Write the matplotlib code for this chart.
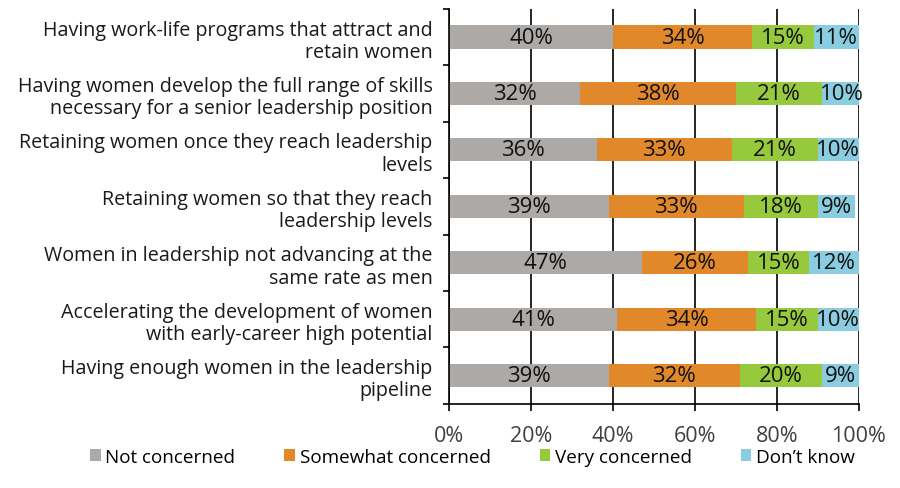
import matplotlib.pyplot as plt
import numpy as np

plt.rcParams['font.family'] = ['Open Sans', 'DejaVu Sans']

categories = [
    'Having work-life programs that attract and\nretain women',
    'Having women develop the full range of skills\nnecessary for a senior leadership position',
    'Retaining women once they reach leadership\nlevels',
    'Retaining women so that they reach\nleadership levels',
    'Women in leadership not advancing at the\nsame rate as men',
    'Accelerating the development of women\nwith early-career high potential',
    'Having enough women in the leadership\npipeline',
]
not_concerned = [40, 32, 36, 39, 47, 41, 39]
somewhat_concerned = [34, 38, 33, 33, 26, 34, 32]
very_concerned = [15, 21, 21, 18, 15, 15, 20]
dont_know = [11, 10, 10, 9, 12, 10, 9]

series = ['Not concerned', 'Somewhat concerned', 'Very concerned', 'Don\u2019t know']
colors = ['#ADA9A7', '#E0882A', '#97C93D', '#8ACDE0']
values = [not_concerned, somewhat_concerned, very_concerned, dont_know]

fig = plt.figure(figsize=(9, 4.89), dpi=100)
ax = fig.add_axes([0.499, 0.172, 0.455, 0.808])

y = np.arange(len(categories))
left = np.zeros(len(categories))
for name, col, vals in zip(series, colors, values):
    vals = np.array(vals, dtype=float)
    ax.barh(y, vals, left=left, height=0.41, color=col, label=name, zorder=3)
    for yi, l, v in zip(y, left, vals):
        ax.text(l + v / 2, yi, f'{int(v)}%', ha='center', va='center',
                fontsize=16, color='#111111', zorder=4)
    left += vals

ax.set_xlim(0, 100)
ax.set_ylim(len(categories) - 0.5, -0.5)

ax.set_xticks(np.arange(0, 101, 20))
ax.set_xticklabels([f'{t}%' for t in range(0, 101, 20)], fontsize=15.5, color='#404040')
ax.tick_params(axis='x', length=5, width=1.2, pad=10, color='black')
ax.grid(axis='x', color='black', linewidth=1.2, zorder=0)

ax.set_yticks(y)
ax.set_yticklabels(categories, fontsize=14.2, color='#1a1a1a', linespacing=1.15)
ax.tick_params(axis='y', which='major', length=0, pad=12)
ax.set_yticks(np.arange(-0.5, len(categories)), minor=True)
ax.tick_params(axis='y', which='minor', length=4, width=1.2, color='black')
for lbl in ax.get_yticklabels():
    lbl.set_horizontalalignment('right')

for s in ['top', 'right']:
    ax.spines[s].set_visible(False)
for s in ['left', 'bottom']:
    ax.spines[s].set_linewidth(1.2)
    ax.spines[s].set_zorder(5)

fig.legend(loc='center', bbox_to_anchor=(0.525, 0.064), ncol=4, frameon=False,
           fontsize=13.6, handlelength=0.55, handleheight=0.55, handletextpad=0.25,
           columnspacing=2.6)

fig.savefig('out.png', dpi=100)
